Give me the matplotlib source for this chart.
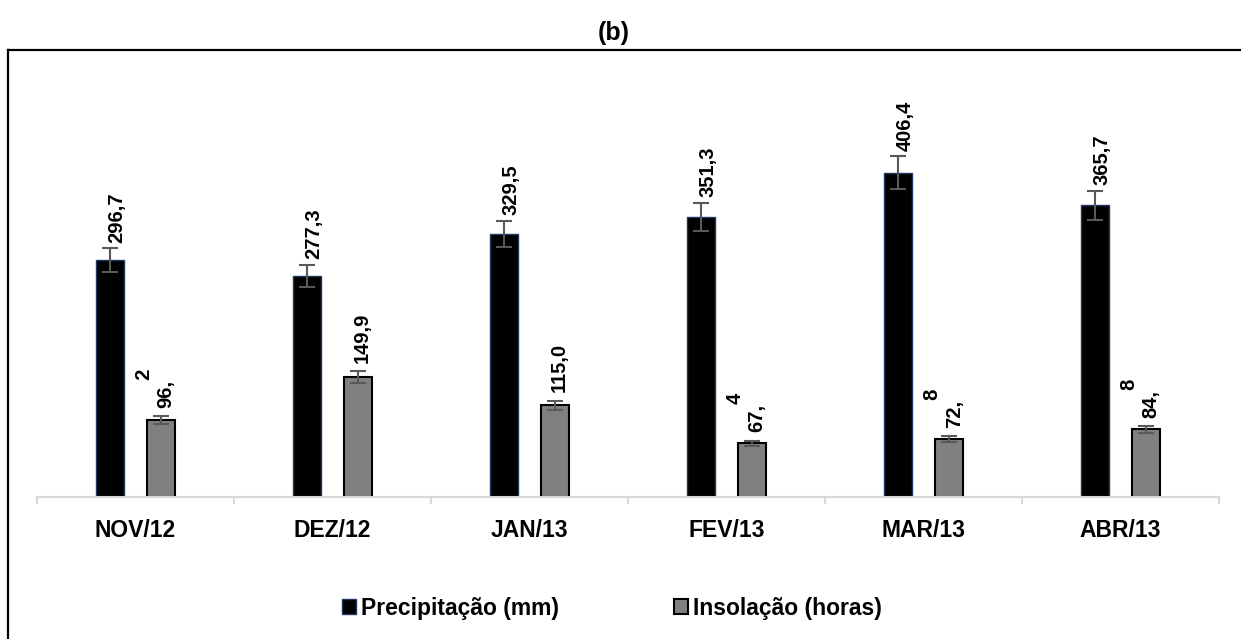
import matplotlib.pyplot as plt
from matplotlib.lines import Line2D
import numpy as np

plt.rcParams['font.family'] = ['Liberation Sans', 'DejaVu Sans']

meses = ['NOV/12', 'DEZ/12', 'JAN/13', 'FEV/13', 'MAR/13', 'ABR/13']
precipitacao = [296.7, 277.3, 329.5, 351.3, 406.4, 365.7]
insolacao = [96.2, 149.9, 115.0, 67.4, 72.8, 84.8]
erro_pct = 0.05  # barras de erro de 5%

W, H = 1241, 639
fig = plt.figure(figsize=(W / 100, H / 100), dpi=100)

# moldura do grafico (so as bordas esquerda e superior aparecem)
fig.add_artist(Line2D([8 / W, 8 / W], [0, 1 - 50 / H], color='black', lw=1.6))
fig.add_artist(Line2D([8 / W, 1], [1 - 50 / H, 1 - 50 / H], color='black', lw=1.6))

fig.text(614 / W, 1 - 33 / H, '(b)', ha='center', va='center',
         fontsize=18, fontweight='bold')

ax = fig.add_axes([37 / W, (H - 497) / H, 1182 / W, 407 / H])

x = np.arange(len(meses))
larg = 0.145
off = 0.13

err_p = [v * erro_pct for v in precipitacao]
err_i = [v * erro_pct for v in insolacao]

ax.bar(x - off, precipitacao, larg, color='black', edgecolor='#1f3864', lw=1.0,
       label='Precipitação (mm)', zorder=2)
ax.bar(x + off, insolacao, larg, color='#808080', edgecolor='black', lw=1.5,
       label='Insolação (horas)', zorder=2)
ax.errorbar(x - off, precipitacao, yerr=err_p, fmt='none', ecolor='#595959',
            elinewidth=1.5, capsize=6, capthick=1.5, zorder=3)
ax.errorbar(x + off, insolacao, yerr=err_i, fmt='none', ecolor='#595959',
            elinewidth=1.5, capsize=6, capthick=1.5, zorder=3)


def rotulo(v):
    s = f'{v:.1f}'.replace('.', ',')
    if v < 100:
        # rotulo quebrado em duas linhas
        ip, dec = s.split(',')
        return '     ' + dec + '\n' + ip + ','
    return s


for xi, v, e in zip(x - off, precipitacao, err_p):
    ax.annotate(rotulo(v), (xi, v + e), xytext=(5, 4), textcoords='offset points',
                rotation=90, ha='center', va='bottom', fontsize=14.5,
                fontweight='bold')
for xi, v, e in zip(x + off, insolacao, err_i):
    t = rotulo(v)
    dx = -4 if '\n' in t else 3
    ax.annotate(t, (xi, v + e), xytext=(dx, 6), textcoords='offset points',
                rotation=90, ha='center', va='bottom', fontsize=14.5,
                fontweight='bold', multialignment='left', linespacing=1.15)

ax.set_xlim(-0.5, len(meses) - 0.5)
ax.set_ylim(0, 510)
ax.set_yticks([])
for s in ['left', 'right', 'top']:
    ax.spines[s].set_visible(False)
ax.spines['bottom'].set_color('#d9d9d9')
ax.spines['bottom'].set_linewidth(1.5)

ax.set_xticks(x)
ax.set_xticklabels(meses, fontsize=16.5, fontweight='bold')
ax.tick_params(axis='x', which='major', length=0, pad=16)
ax.set_xticks(np.arange(len(meses) + 1) - 0.5, minor=True)
ax.tick_params(axis='x', which='minor', length=5, width=1.5, color='#d9d9d9')

leg = fig.legend(loc='center', bbox_to_anchor=(612 / W, 1 - 608 / H), ncol=2,
                 frameon=False, handlelength=0.6, handleheight=0.6,
                 handletextpad=0.25, columnspacing=5.0,
                 prop={'weight': 'bold', 'size': 16.5})

fig.savefig('out.png', dpi=100)
